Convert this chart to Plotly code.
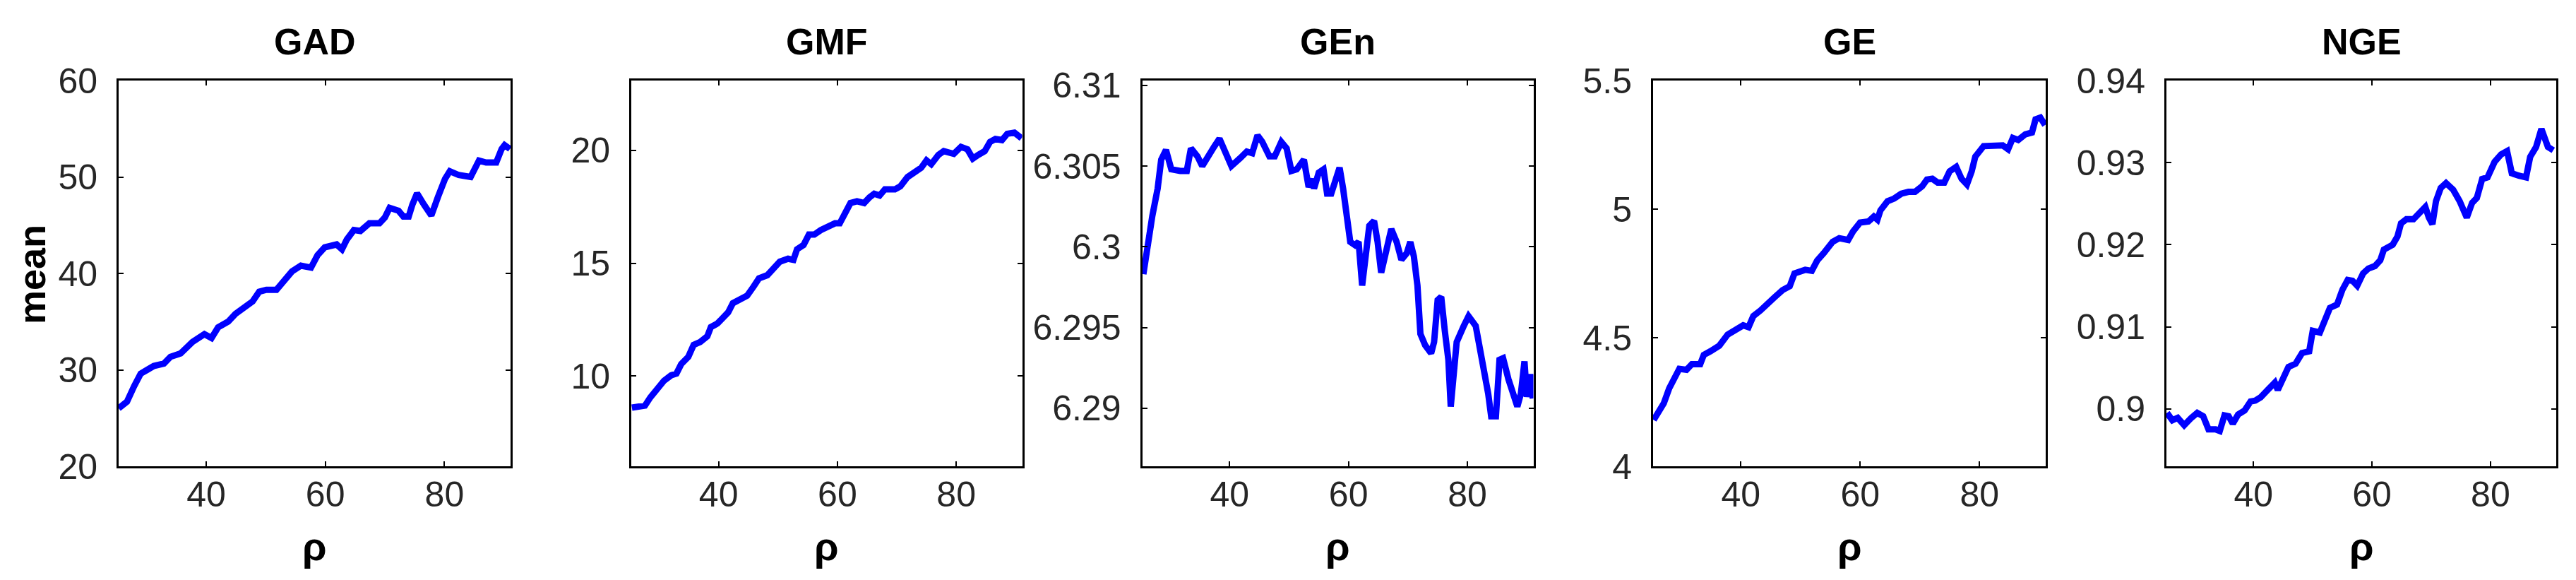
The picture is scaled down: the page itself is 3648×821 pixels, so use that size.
"""
Five side-by-side panels: mean of each graph measure against rho.
"""

import plotly.graph_objects as go

# ---------------------------------------------------------------------
# Data
# ---------------------------------------------------------------------

panel_titles = ["GAD", "GMF", "GEn", "GE", "NGE"]

gad_x = [25.3, 26.7, 27.9, 29.0, 30.1, 31.2, 32.9, 34.0, 35.7, 37.7, 39.7, 40.9,
         42.0, 43.7, 44.9, 46.6, 47.8, 48.9, 50.1, 51.8, 53.0, 54.4, 55.9, 57.6,
         58.7, 59.9, 61.9, 62.8, 63.6, 64.8, 65.9, 67.4, 69.1, 70.0, 70.8, 72.3,
         73.1, 74.0, 74.6, 75.4, 76.6, 77.8, 78.9, 80.1, 80.9, 82.4, 84.4, 85.2,
         85.8, 87.0, 88.7, 89.6, 90.1, 91.0]
gad_y = [26.0, 26.7, 28.3, 29.6, 30.0, 30.4, 30.65, 31.35, 31.7, 32.9, 33.7, 33.3,
         34.4, 35.0, 35.8, 36.5, 37.1, 38.1, 38.3, 38.3, 39.2, 40.2, 40.8, 40.6,
         41.9, 42.7, 43.0, 42.5, 43.5, 44.5, 44.4, 45.2, 45.2, 45.8, 46.8, 46.5,
         45.9, 45.9, 47.1, 48.3, 47.1, 46.0, 47.9, 49.8, 50.6, 50.2, 50.0, 51.0,
         51.7, 51.5, 51.5, 52.9, 53.3, 52.9]

gmf_x = [25.4, 26.2, 27.0, 27.6, 28.5, 29.7, 30.8, 32.0, 32.9, 33.7, 34.9, 35.8,
         36.9, 38.1, 38.7, 39.8, 40.7, 41.6, 42.4, 43.6, 44.8, 45.9, 46.8, 48.2,
         49.4, 50.3, 51.7, 52.6, 53.2, 54.3, 55.2, 56.1, 57.2, 58.4, 59.6, 60.4,
         61.3, 62.2, 63.3, 64.5, 65.4, 66.2, 67.1, 68.0, 69.7, 70.6, 71.8, 72.9,
         74.1, 75.0, 75.8, 77.0, 77.9, 79.6, 80.8, 81.9, 82.8, 83.7, 84.8, 85.7,
         86.6, 87.7, 88.6, 89.8, 91.0]
gmf_y = [8.6, 8.64, 8.72, 8.69, 9.05, 9.46, 9.79, 10.03, 10.11, 10.53, 10.85, 11.38,
         11.51, 11.76, 12.17, 12.33, 12.58, 12.82, 13.23, 13.40, 13.56, 13.97, 14.33, 14.47,
         14.79, 15.07, 15.20, 15.15, 15.62, 15.81, 16.27, 16.27, 16.47, 16.60, 16.77, 16.77,
         17.26, 17.67, 17.75, 17.67, 17.92, 18.08, 18.00, 18.28, 18.28, 18.41, 18.82, 18.98,
         19.23, 19.56, 19.39, 19.80, 19.97, 19.85, 20.16, 20.05, 19.64, 19.80, 19.97, 20.38,
         20.51, 20.46, 20.74, 20.79, 20.54]

gen_x = [25.5, 26.2, 27.0, 27.9, 28.5, 29.3, 30.2, 31.7, 32.8, 33.5, 34.6, 35.4,
         36.3, 37.4, 38.3, 39.2, 40.3, 41.8, 42.9, 43.8, 44.7, 45.5, 46.7, 47.6,
         48.7, 49.6, 50.4, 51.3, 52.5, 53.3, 53.9, 54.2, 55.0, 55.8, 56.4, 57.1,
         57.9, 58.5, 59.1, 59.7, 60.3, 61.1, 61.7, 62.3, 62.9, 63.5, 64.3, 64.9,
         65.5, 66.3, 67.2, 68.1, 68.9, 69.8, 70.4, 71.0, 71.6, 72.1, 72.9, 73.9,
         74.4, 75.0, 75.6, 76.2, 76.8, 77.2, 77.8, 78.2, 79.4, 80.2, 81.4, 82.5,
         83.5, 84.0, 84.8, 85.4, 86.0, 86.9, 87.8, 88.4, 89.0, 89.6, 90.0, 90.6, 91.0]
gen_y = [6.2983, 6.3001, 6.3019, 6.3036, 6.3054, 6.3060, 6.3048, 6.3047, 6.3047, 6.3061,
         6.3056, 6.3050, 6.3056, 6.3062, 6.3067, 6.3060, 6.3050, 6.3055, 6.3059, 6.3058,
         6.3069, 6.3065, 6.3056, 6.3056, 6.3065, 6.3061, 6.3047, 6.3048, 6.3054, 6.3037,
         6.3042, 6.3036, 6.3046, 6.3048, 6.3033, 6.3033, 6.3042, 6.3049, 6.3036, 6.3022,
         6.3003, 6.3001, 6.3003, 6.2976, 6.2992, 6.3013, 6.3016, 6.3003, 6.2984, 6.2999,
         6.3011, 6.3003, 6.2992, 6.2996, 6.3003, 6.2994, 6.2976, 6.2946, 6.2939, 6.2934,
         6.2941, 6.2967, 6.2969, 6.2948, 6.2930, 6.2901, 6.2923, 6.2941, 6.2951, 6.2957,
         6.2951, 6.2930, 6.2909, 6.2895, 6.2895, 6.2930, 6.2931, 6.2918, 6.2909, 6.2901,
         6.2909, 6.2929, 6.2907, 6.2921, 6.2906]

ge_x = [25.4, 26.3, 27.1, 28.0, 28.9, 29.7, 30.9, 31.8, 33.2, 33.8, 34.9, 36.4,
        37.8, 39.2, 40.4, 41.3, 42.1, 43.3, 44.4, 45.6, 47.0, 48.2, 49.0, 50.8,
        51.9, 52.8, 53.9, 55.4, 56.5, 58.0, 58.8, 60.0, 61.4, 62.3, 62.9, 63.4,
        64.6, 65.7, 66.9, 68.1, 69.2, 70.4, 71.2, 72.1, 73.0, 74.1, 75.0, 76.1,
        77.0, 77.9, 78.7, 79.3, 80.7, 82.2, 83.9, 84.8, 85.6, 86.5, 87.7, 88.8,
        89.4, 90.2, 91.0]
ge_y = [4.18, 4.216, 4.245, 4.303, 4.346, 4.379, 4.375, 4.397, 4.397, 4.433, 4.447, 4.469,
        4.512, 4.534, 4.548, 4.541, 4.584, 4.606, 4.627, 4.656, 4.685, 4.700, 4.750, 4.764,
        4.760, 4.800, 4.829, 4.873, 4.887, 4.880, 4.913, 4.948, 4.952, 4.971, 4.959, 4.995,
        5.031, 5.041, 5.060, 5.067, 5.067, 5.089, 5.115, 5.118, 5.103, 5.103, 5.147, 5.164,
        5.118, 5.096, 5.147, 5.204, 5.245, 5.248, 5.248, 5.233, 5.277, 5.269, 5.291, 5.298,
        5.349, 5.356, 5.327]

nge_x = [25.4, 26.3, 27.2, 28.3, 29.5, 30.5, 31.5, 32.4, 33.6, 34.3, 35.1, 35.8,
         36.5, 37.4, 38.5, 39.5, 40.3, 41.2, 42.4, 43.6, 44.1, 45.0, 45.9, 47.1,
         48.2, 49.4, 50.0, 51.2, 52.1, 52.9, 54.1, 55.0, 55.9, 56.7, 57.5, 58.5,
         59.4, 60.5, 61.4, 62.0, 63.5, 64.3, 64.9, 65.8, 67.0, 68.1, 69.0, 69.6,
         70.2, 70.8, 71.6, 72.5, 73.7, 74.8, 76.0, 76.9, 77.7, 78.6, 79.5, 80.7,
         81.8, 82.8, 83.6, 84.8, 86.0, 86.7, 87.7, 88.6, 89.1, 89.7, 90.6]
nge_y = [0.8995, 0.8986, 0.8989, 0.8980, 0.8989, 0.8995, 0.8991, 0.8975, 0.8975, 0.8973,
         0.8992, 0.8991, 0.8982, 0.8993, 0.8998, 0.9009, 0.9010, 0.9014, 0.9023, 0.9032,
         0.9023, 0.9038, 0.9051, 0.9055, 0.9068, 0.9070, 0.9095, 0.9093, 0.9108, 0.9123,
         0.9127, 0.9145, 0.9157, 0.9156, 0.9150, 0.9165, 0.9171, 0.9174, 0.9181, 0.9194,
         0.9200, 0.9210, 0.9226, 0.9231, 0.9231, 0.9239, 0.9246, 0.9233, 0.9225, 0.9253,
         0.9269, 0.9275, 0.9267, 0.9253, 0.9233, 0.9251, 0.9257, 0.9280, 0.9282, 0.9301,
         0.9310, 0.9314, 0.9287, 0.9284, 0.9282, 0.9307, 0.9319, 0.9341, 0.9330, 0.9319,
         0.9315]

x_ticks = [40, 60, 80]
y_ticks = [
    [20, 30, 40, 50, 60],
    [10, 15, 20],
    [6.29, 6.295, 6.3, 6.305, 6.31],
    [4, 4.5, 5, 5.5],
    [0.9, 0.91, 0.92, 0.93, 0.94],
]
y_tick_text = [
    ["20", "30", "40", "50", "60"],
    ["10", "15", "20"],
    ["6.29", "6.295", "6.3", "6.305", "6.31"],
    ["4", "4.5", "5", "5.5"],
    ["0.9", "0.91", "0.92", "0.93", "0.94"],
]
y_ranges = [[20, 60], [6.0, 23.1], [6.2864, 6.3103], [4, 5.5], [0.893, 0.94]]
x_range = [25.3, 91.1]

series = [(gad_x, gad_y), (gmf_x, gmf_y), (gen_x, gen_y), (ge_x, ge_y), (nge_x, nge_y)]

# ---------------------------------------------------------------------
# Layout geometry (pixels of the 3648 x 821 canvas)
# ---------------------------------------------------------------------

W, H = 3648, 821
panel_px = [(160, 715), (886, 1439.5), (1609.5, 2163.5), (2333, 2889), (3060, 3612)]
top_px, bottom_px = 106, 652

FONT = "Liberation Sans, Arial, sans-serif"
TICK_COLOR = "#262626"

fig = go.Figure()
annotations = []

for i, ((xs, ys), (left, right)) in enumerate(zip(series, panel_px)):
    n = "" if i == 0 else str(i + 1)
    fig.add_trace(go.Scatter(
        x=xs, y=ys, mode="lines",
        line=dict(color="#0000FF", width=9),
        xaxis=f"x{n}", yaxis=f"y{n}",
        showlegend=False,
    ))

    # automargin off: otherwise the template grows the margins and
    # squashes the panels
    axis_common = dict(
        showline=True, linecolor="black", linewidth=3,
        mirror="ticks", ticks="inside", ticklen=7, tickwidth=2,
        tickcolor="black", showgrid=False, zeroline=False,
        automargin=False,
        tickfont=dict(family=FONT, size=50, color=TICK_COLOR),
    )
    fig.layout[f"xaxis{n}"] = dict(
        domain=[left / W, right / W], anchor=f"y{n}",
        range=x_range, tickvals=x_ticks, ticklabelstandoff=-6,
        **axis_common,
    )
    fig.layout[f"yaxis{n}"] = dict(
        domain=[1 - bottom_px / H, 1 - top_px / H], anchor=f"x{n}",
        range=y_ranges[i], tickvals=y_ticks[i], ticktext=y_tick_text[i],
        ticklabelstandoff=17,
        **axis_common,
    )

    mid = (left + right) / 2 / W
    # Panel title
    annotations.append(dict(
        text=f"<b>{panel_titles[i]}</b>", x=mid, y=1 - 51 / H,
        xref="paper", yref="paper", showarrow=False,
        xanchor="center", yanchor="middle",
        font=dict(family=FONT, size=52, color="black"),
    ))
    # x-axis label
    annotations.append(dict(
        text="<b>ρ</b>", x=mid, y=1 - 765 / H,
        xref="paper", yref="paper", showarrow=False,
        xanchor="center", yanchor="middle",
        font=dict(family=FONT, size=56, color="black"),
    ))

# y-axis label on the first panel only
annotations.append(dict(
    text="<b>mean</b>", x=37 / W, y=1 - 381 / H,
    xref="paper", yref="paper", showarrow=False, textangle=-90,
    xanchor="center", yanchor="middle",
    font=dict(family=FONT, size=54, color="black"),
))

fig.update_layout(
    template="none",
    width=W, height=H,
    margin=dict(l=0, r=0, t=0, b=0, autoexpand=False),
    paper_bgcolor="white", plot_bgcolor="white",
    annotations=annotations,
)

fig.write_html("out.html")
